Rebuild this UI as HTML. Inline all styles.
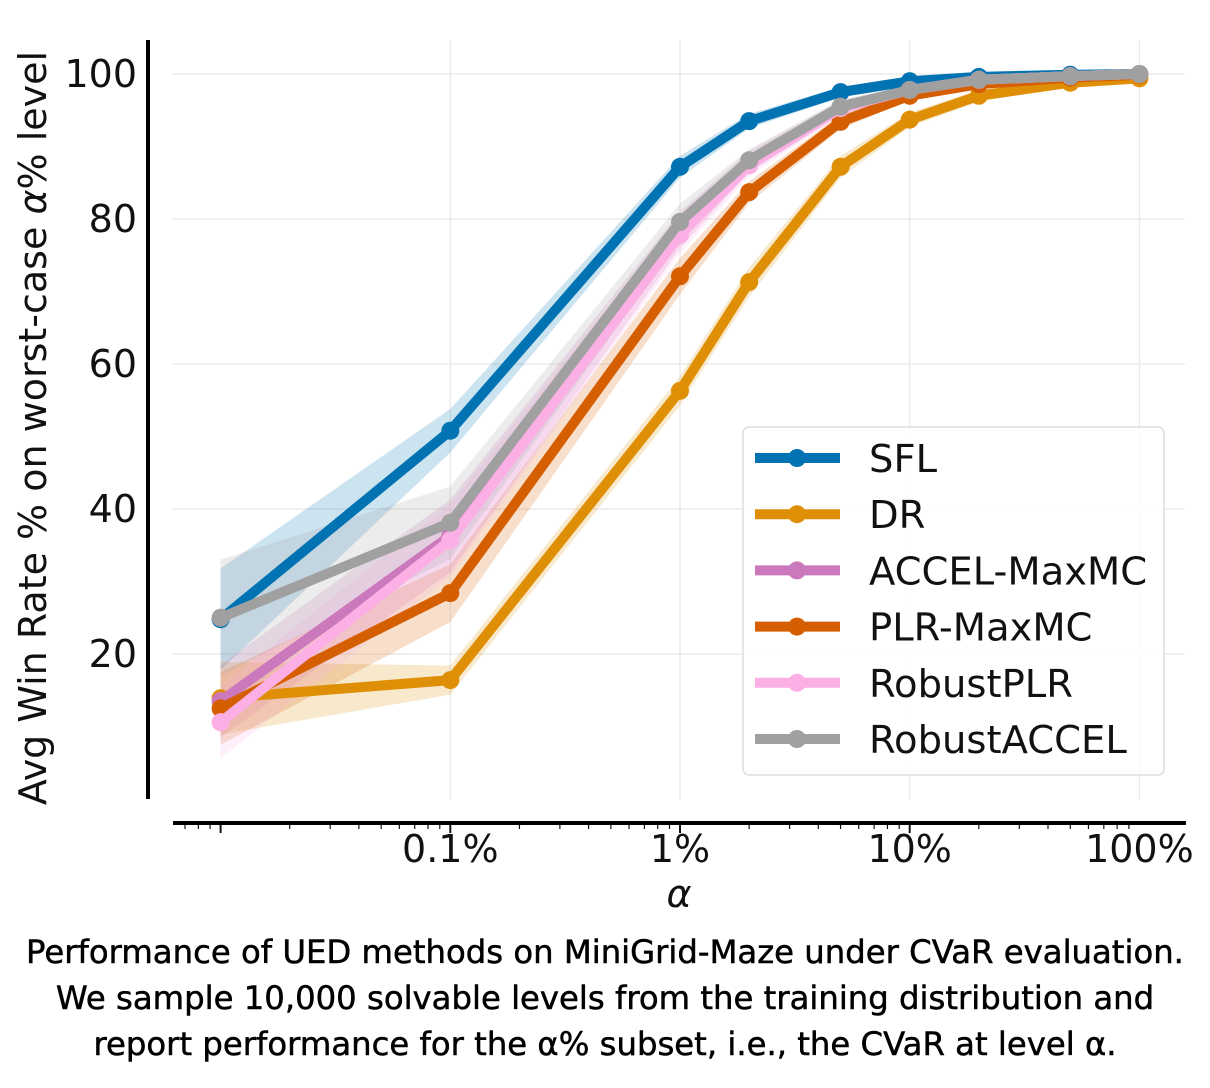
<!DOCTYPE html>
<html><head><meta charset="utf-8"><style>
body{margin:0;background:#fff;width:1210px;height:1088px;overflow:hidden;font-family:"DejaVu Sans","Liberation Sans",sans-serif}
.cap{position:absolute;left:0;width:1210px;text-align:center;font-size:32.3px;color:#000;line-height:46px;top:929px;-webkit-text-stroke:0.5px #000;white-space:nowrap}
</style></head><body>
<svg id="chart" width="1210" height="920" style="position:absolute;left:0;top:0" xmlns="http://www.w3.org/2000/svg"></svg>
<div class="cap">Performance of UED methods on MiniGrid-Maze under CVaR evaluation.<br>We sample 10,000 solvable levels from the training distribution and<br>report performance for the α% subset, i.e., the CVaR at level α.</div>
<script>
const alphas=[0.01,0.1,1,2,5,10,20,50,100];
const seriesNames=["SFL","DR","ACCEL-MaxMC","PLR-MaxMC","RobustPLR","RobustACCEL"];
const colors=["#0173b2","#de8f05","#cc78bc","#d55e00","#fbafe4","#a0a0a0"];
const sfl=[24.8,50.8,87.2,93.5,97.5,99,99.6,99.9,100];
const dr=[13.9,16.4,56.3,71.3,87.2,93.7,97,98.8,99.4];
const accel=[13.5,36.3,78.5,87.9,95.3,97.8,99.2,99.7,100];
const plr=[12.5,28.4,72.1,83.7,93.4,97,98.6,99.5,99.9];
const rplr=[10.6,35.7,77.8,87.4,95.3,97.8,99.2,99.7,100];
const raccel=[25,38.1,79.6,88.1,95.5,97.8,99.2,99.7,100];
const sflErr=[7,3,1.5,1,0.7,0.4,0.3,0.2,0.1];
const drErr=[5,2,2,2,1.5,1,0.8,0.5,0.3];
const accelErr=[5,5,2.5,1.5,1,0.6,0.4,0.2,0.1];
const plrErr=[5,4,2.5,1.5,1,0.6,0.4,0.2,0.1];
const rplrErr=[5,5,2.5,1.5,1,0.6,0.4,0.2,0.1];
const raccelErr=[8,5,2.5,1.5,1,0.6,0.4,0.2,0.1];
const yTicks=[20,40,60,80,100];
const xTicks=[0.1,1,10,100];
const xTickLabels=["0.1%","1%","10%","100%"];
const allVals=[sfl,dr,accel,plr,rplr,raccel];
const allErr=[sflErr,drErr,accelErr,plrErr,rplrErr,raccelErr];
const NS="http://www.w3.org/2000/svg";
const svg=document.getElementById('chart');
const X=a=>680+229.7*Math.log10(a);
const Y=v=>799-7.25*v;
function mk(t,at,parent){const e=document.createElementNS(NS,t);for(const k in at)e.setAttribute(k,at[k]);(parent||svg).appendChild(e);return e;}
yTicks.forEach(t=>{const g=mk('line',{x1:173,x2:1185,y1:Y(t),y2:Y(t),stroke:'#ebebeb','stroke-width':1.5});


const l=mk('text',{x:137,y:Y(t)+13,'text-anchor':'end','font-size':38,fill:'#111'});l.textContent=t;

});
xTicks.forEach((t,i)=>{const g=mk('line',{x1:X(t),x2:X(t),y1:40,y2:800,stroke:'#ebebeb','stroke-width':1.5});


const l=mk('text',{x:X(t),y:862,'text-anchor':'middle','font-size':38,fill:'#111'});l.textContent=xTickLabels[i];

});
for(let d=-3;d<2;d++)for(let m=1;m<10;m++){const a=Math.pow(10,d)*m;const x=X(a);if(x<175||x>1185)continue;
const tk=mk('line',{x1:x,x2:x,y1:823,y2:m==1?833:829,stroke:'#111','stroke-width':m==1?2:1.2});

}
const ya=mk('line',{x1:148,x2:148,y1:40,y2:799,stroke:'#000','stroke-width':4});


const xa=mk('line',{x1:173,x2:1186,y1:823,y2:823,stroke:'#000','stroke-width':4});


const yt=mk('text',{x:0,y:0,transform:'translate(46,428) rotate(-90)','text-anchor':'middle','font-size':38,fill:'#111'});
yt.innerHTML='Avg Win Rate % on worst-case <tspan font-style="italic">α</tspan>% level';


const xt=mk('text',{x:679,y:907,'text-anchor':'middle','font-size':38,'font-style':'italic',fill:'#111'});xt.textContent='α';


allVals.forEach((vals,s)=>{const e=allErr[s];
let d='M'+alphas.map((a,i)=>X(a)+','+Y(Math.min(100,vals[i]+e[i]))).join('L');
d+='L'+alphas.slice().reverse().map((a,j)=>{const i=alphas.length-1-j;return X(a)+','+Y(vals[i]-e[i]);}).join('L')+'Z';
const b=mk('path',{d:d,fill:colors[s],'fill-opacity':0.2});

});
allVals.forEach((vals,s)=>{const g=mk('g',{});


mk('polyline',{points:alphas.map((a,i)=>X(a)+','+Y(vals[i])).join(' '),fill:'none',stroke:colors[s],'stroke-width':10,'stroke-linejoin':'round'},g);
alphas.forEach((a,i)=>{const c=mk('circle',{cx:X(a),cy:Y(vals[i]),r:9,fill:colors[s]},g);

});});
const lg=mk('g',{});


mk('rect',{x:743,y:427,width:421,height:348,rx:6,fill:'#fff','fill-opacity':0.85,stroke:'#ddd','stroke-width':1.5},lg);
seriesNames.forEach((n,s)=>{const y=458+56.2*s;const e=mk('g',{},lg);


mk('line',{x1:755,x2:840,y1:y,y2:y,stroke:colors[s],'stroke-width':10},e);
mk('circle',{cx:797,cy:y,r:9,fill:colors[s]},e);
const t=mk('text',{x:869,y:y+14,'font-size':38.5,fill:'#111'},e);t.textContent=n;});
</script>
</body></html>
